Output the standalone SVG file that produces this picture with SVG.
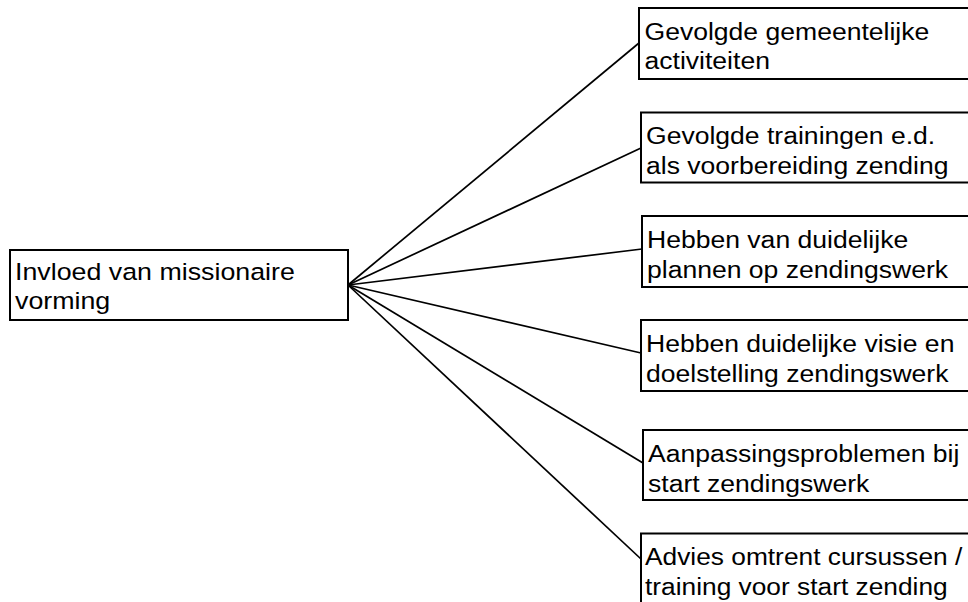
<svg xmlns="http://www.w3.org/2000/svg" width="968" height="602" viewBox="0 0 968 602">
  <style>
    .box { fill: #ffffff; stroke: #000000; stroke-width: 2; }
    .lbl { font-family: "Liberation Sans", Arial, sans-serif; font-size: 23.5px; fill: #000000; }
    .conn line { stroke: #000000; stroke-width: 1.7; }
  </style>
  <rect width="968" height="602" fill="#ffffff"/>
  <g id="connectors" class="conn">
    <line x1="348" y1="285" x2="639" y2="43"/>
    <line x1="348" y1="285" x2="641" y2="148"/>
    <line x1="348" y1="285" x2="642" y2="249"/>
    <line x1="348" y1="285" x2="641" y2="353"/>
    <line x1="348" y1="285" x2="643" y2="463"/>
    <line x1="348" y1="285" x2="641" y2="559"/>
  </g>
  <g id="node-root">
    <rect class="box" x="10" y="250" width="338" height="70"/>
    <text class="lbl" transform="translate(15,279.5) scale(1.14,1)">Invloed van missionaire</text>
    <text class="lbl" transform="translate(15,309) scale(1.14,1)">vorming</text>
  </g>
  <g id="node-1">
    <rect class="box" x="639" y="8" width="340" height="71"/>
    <text class="lbl" transform="translate(644.5,39.5) scale(1.13,1)">Gevolgde gemeentelijke</text>
    <text class="lbl" transform="translate(644.5,69) scale(1.13,1)">activiteiten</text>
  </g>
  <g id="node-2">
    <rect class="box" x="641" y="112.5" width="340" height="70"/>
    <text class="lbl" transform="translate(646,144) scale(1.13,1)">Gevolgde trainingen e.d.</text>
    <text class="lbl" transform="translate(646,173.5) scale(1.13,1)">als voorbereiding zending</text>
  </g>
  <g id="node-3">
    <rect class="box" x="642" y="216" width="340" height="71"/>
    <text class="lbl" transform="translate(647,248) scale(1.13,1)">Hebben van duidelijke</text>
    <text class="lbl" transform="translate(647,277.5) scale(1.13,1)">plannen op zendingswerk</text>
  </g>
  <g id="node-4">
    <rect class="box" x="641" y="320" width="340" height="71"/>
    <text class="lbl" transform="translate(646,352) scale(1.13,1)">Hebben duidelijke visie en</text>
    <text class="lbl" transform="translate(646,381.5) scale(1.13,1)">doelstelling zendingswerk</text>
  </g>
  <g id="node-5">
    <rect class="box" x="643" y="430" width="340" height="70"/>
    <text class="lbl" transform="translate(648,462) scale(1.13,1)">Aanpassingsproblemen bij</text>
    <text class="lbl" transform="translate(648,491.5) scale(1.13,1)">start zendingswerk</text>
  </g>
  <g id="node-6">
    <rect class="box" x="641" y="533.5" width="340" height="80"/>
    <text class="lbl" transform="translate(645,565) scale(1.12,1)">Advies omtrent cursussen /</text>
    <text class="lbl" transform="translate(645,594.5) scale(1.12,1)">training voor start zending</text>
  </g>
</svg>
